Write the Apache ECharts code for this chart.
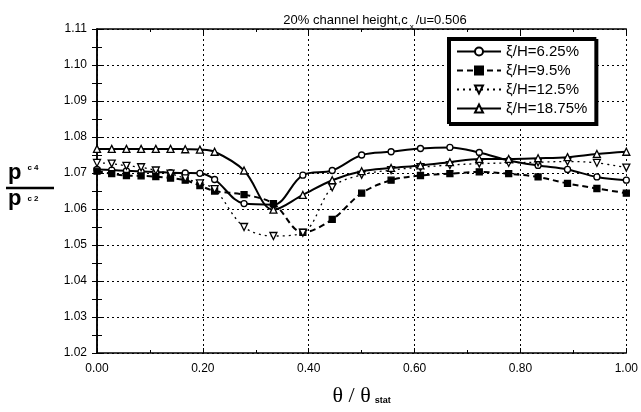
<!DOCTYPE html>
<html><head><meta charset="utf-8">
<script src="https://cdn.jsdelivr.net/npm/echarts@6/dist/echarts.min.js"></script>
<style>html,body{margin:0;padding:0;background:#fff}#c{width:641px;height:412px}</style>
</head><body><div id="c"></div>
<script>
const thetaRatio = [0, 0.0278, 0.0556, 0.0833, 0.1111, 0.1389, 0.1667, 0.1944, 0.2222, 0.2778, 0.3333, 0.3889, 0.4444, 0.5, 0.5556, 0.6111, 0.6667, 0.7222, 0.7778, 0.8333, 0.8889, 0.9444, 1.0];
const seriesNames = ['ξ/H=6.25%', 'ξ/H=9.5%', 'ξ/H=12.5%', 'ξ/H=18.75%'];
const h625  = [1.0710,1.0708,1.0706,1.0704,1.0703,1.0701,1.0700,1.0699,1.0682,1.0615,1.0612,1.0694,1.0707,1.0750,1.0759,1.0768,1.0771,1.0757,1.0735,1.0721,1.0710,1.0689,1.0680];
const h95   = [1.0705,1.0698,1.0693,1.0692,1.0690,1.0686,1.0680,1.0665,1.0650,1.0640,1.0615,1.0535,1.0571,1.0644,1.0680,1.0693,1.0698,1.0703,1.0698,1.0689,1.0671,1.0657,1.0644];
const h125  = [1.0728,1.0726,1.0720,1.0716,1.0707,1.0698,1.0685,1.0671,1.0655,1.0550,1.0525,1.0534,1.0660,1.0695,1.0708,1.0716,1.0722,1.0726,1.0728,1.0730,1.0732,1.0728,1.0715];
const h1875 = [1.0767,1.0767,1.0767,1.0767,1.0767,1.0767,1.0766,1.0765,1.0759,1.0707,1.0598,1.0639,1.0680,1.0705,1.0714,1.0721,1.0730,1.0739,1.0739,1.0741,1.0744,1.0753,1.0759];
const yTicks = [1.02,1.03,1.04,1.05,1.06,1.07,1.08,1.09,1.10,1.11];
const xTicks = [0,0.2,0.4,0.6,0.8,1.0];

const pair = ys => thetaRatio.map((x,i)=>[x, ys[i]]);
const font = 'Liberation Sans, Arial, sans-serif';
const chart = echarts.init(document.getElementById('c'));
const grid = {left:97, right:14, top:29, bottom:53};
const common = (name, data, lineType, lw, symbol, size, fill) => ({
  name, type:'line', data:pair(data), smooth:0.35, symbol, symbolSize:size,
  lineStyle:{color:'#000', width:lw, type:lineType},
  itemStyle:{color:fill, borderColor:'#000', borderWidth:1.3},
  emphasis:{disabled:true}, z:5
});
chart.setOption({
  animation:false,
  backgroundColor:'#fff',
  title:{
    text:'20% channel height,c{s|x}/u=0.506', left:370, top:4, textAlign:'center',
    textStyle:{fontFamily:font, fontSize:13, fontWeight:'normal', color:'#000',
      rich:{s:{fontFamily:font, fontSize:8, color:'#000', padding:[14,2,0,2]}}}
  },
  grid,
  legend:{
    orient:'vertical', left:448, top:38, data:seriesNames,
    backgroundColor:'#fff', borderColor:'#000', borderWidth:2, padding:[6,8,7,8],
    itemWidth:44, itemHeight:10, itemGap:4,
    textStyle:{fontFamily:font, fontSize:15, color:'#000'},
    shadowColor:'#000', shadowOffsetX:2, shadowOffsetY:2, shadowBlur:0
  },
  xAxis:[{
    type:'value', min:0, max:1, interval:0.2,
    axisLine:{show:true, onZero:false, lineStyle:{color:'#000', width:1.5}},
    axisTick:{show:true, inside:true, length:5, lineStyle:{color:'#000'}},
    minorTick:{show:true, splitNumber:2, length:3, lineStyle:{color:'#000'}},
    axisLabel:{fontFamily:font, fontSize:12, color:'#000', margin:10, formatter:v=>v.toFixed(2)},
    splitLine:{show:true, lineStyle:{color:'#000', type:[2,3], width:1}},
    name:'θ / θ{s|stat}', nameLocation:'middle', nameGap:32,
    nameTextStyle:{fontFamily:'Liberation Serif, serif', fontSize:22, color:'#000',
      rich:{s:{fontFamily:font, fontSize:9, fontWeight:'bold', color:'#000', padding:[10,0,0,4]}}}
  },{
    type:'value', position:'top', min:0, max:1, interval:0.2,
    axisLine:{show:true, lineStyle:{color:'#000', width:1.5}},
    axisTick:{show:true, inside:true, length:5, lineStyle:{color:'#000'}},
    minorTick:{show:true, splitNumber:2, length:3, lineStyle:{color:'#000'}},
    axisLabel:{show:false}, splitLine:{show:false}
  }],
  yAxis:[{
    type:'value', min:1.02, max:1.11, interval:0.01,
    axisLine:{show:true, lineStyle:{color:'#000', width:1.5}},
    axisTick:{show:true, inside:true, length:5, lineStyle:{color:'#000'}},
    minorTick:{show:true, splitNumber:2, length:5, lineStyle:{color:'#000'}},
    axisLabel:{fontFamily:font, fontSize:12, color:'#000', margin:10,
      formatter:v=>{const t=yTicks.find(k=>Math.abs(k-v)<1e-6); return t!==undefined?t.toFixed(2):'';}},
    splitLine:{show:true, lineStyle:{color:'#000', type:[2,3], width:1}}
  },{
    type:'value', position:'right', min:1.02, max:1.11, interval:0.01,
    axisLine:{show:true, lineStyle:{color:'#000', width:1.5}},
    axisTick:{show:true, inside:true, length:5, lineStyle:{color:'#000'}},
    minorTick:{show:true, splitNumber:2, length:5, lineStyle:{color:'#000'}},
    axisLabel:{show:false}, splitLine:{show:false}
  }],
  graphic:[
    {type:'text', left:8, top:162, style:{text:'p{s|c 4}', font:'bold 22px '+font, fill:'#000',
      rich:{s:{font:'bold 8px '+font, fill:'#000', padding:[0,0,10,6]}}}},
    {type:'line', shape:{x1:6, y1:188, x2:54, y2:188}, style:{stroke:'#000', lineWidth:2.5}},
    {type:'text', left:8, top:188, style:{text:'p{s|c 2}', font:'bold 22px '+font, fill:'#000',
      rich:{s:{font:'bold 8px '+font, fill:'#000', padding:[0,0,0,6]}}}}
  ],
  series:[
    common(seriesNames[0], h625, 'solid', 2, 'circle', 6, '#fff'),
    common(seriesNames[1], h95, [6,4], 2, 'rect', 6, '#000'),
    common(seriesNames[2], h125, [2,4], 1.3, 'path://M0,0 L10,0 L5,9 Z', 7, '#fff'),
    common(seriesNames[3], h1875, 'solid', 2, 'triangle', 7, '#fff')
  ]
});
</script></body></html>
